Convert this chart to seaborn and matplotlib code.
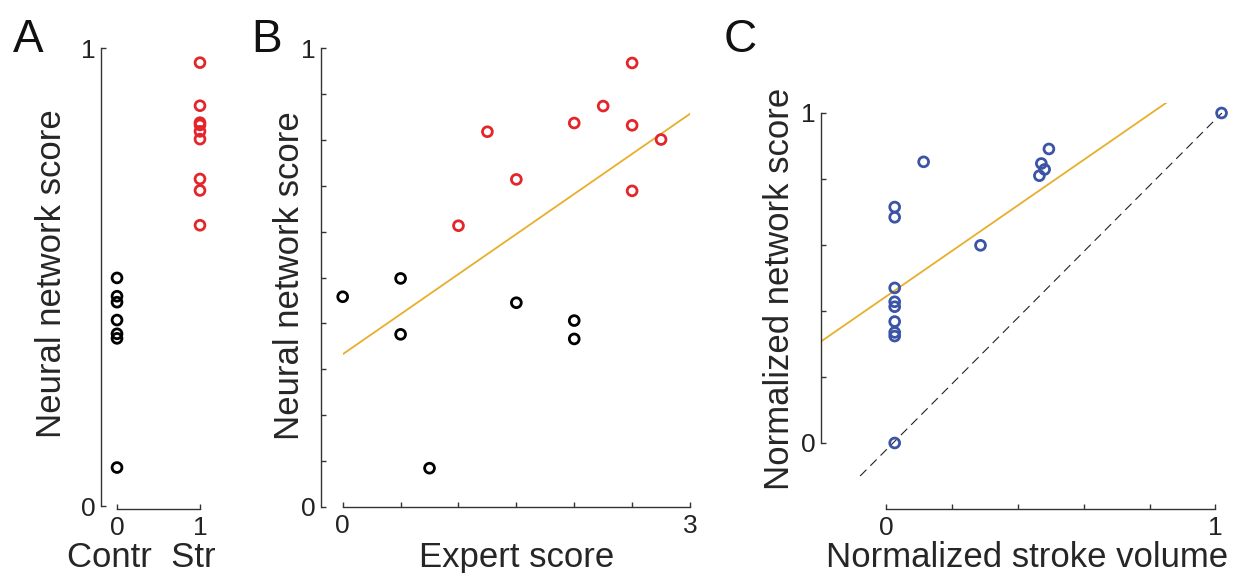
import numpy as np
import matplotlib
matplotlib.use('Agg')
import matplotlib.pyplot as plt
import seaborn as sns

# neural network score per subject (panels A and B)
control_nn = [0.498, 0.458, 0.445, 0.406, 0.376, 0.366, 0.084]
stroke_nn = [0.968, 0.874, 0.837, 0.832, 0.818, 0.801, 0.714, 0.689, 0.613]
# expert score of the same subjects (panel B)
control_expert = [0.5, 0.0, 1.5, 2.0, 0.5, 2.0, 0.75]
stroke_expert = [2.5, 2.25, 2.0, 2.5, 1.25, 2.75, 1.5, 2.5, 1.0]

# panel C: normalized stroke volume vs normalized network score
stroke_volume_norm = [0.113, 0.494, 0.471, 0.481, 0.465, 0.286, 1.019,
                      0.025, 0.025, 0.025, 0.025, 0.025, 0.025, 0.025, 0.025, 0.025]
network_norm = [0.852, 0.891, 0.847, 0.829, 0.810, 0.599, 1.000,
                0.715, 0.684, 0.470, 0.428, 0.413, 0.368, 0.335, 0.324, 0.000]
# identity reference line
diag_x = [-0.08, 1.02]
diag_y = [-0.10, 1.00]

RED = '#e2262b'
BLUE = '#3b54a5'
ORANGE = '#e8ae2c'
AXC = '#333333'

sns.set_theme(style='white')
plt.rcParams['font.family'] = ['Liberation Sans', 'DejaVu Sans']

W, H = 1250, 573
fig = plt.figure(figsize=(W / 100, H / 100), dpi=100)


def rect(left, right, top, bottom):
    return [left / W, 1 - bottom / H, (right - left) / W, (bottom - top) / H]


def style_axes(ax, xticks, xlabels, yticks, ylabels, xbounds, ybounds):
    sns.despine(ax=ax)
    ax.spines['left'].set_bounds(*ybounds)
    ax.spines['bottom'].set_bounds(*xbounds)
    for s in ['left', 'bottom']:
        ax.spines[s].set_color(AXC)
        ax.spines[s].set_linewidth(1.0)
    ax.set_xticks(xticks, xlabels)
    ax.set_yticks(yticks, ylabels)
    ax.tick_params(bottom=True, left=True, direction='in', length=3.5,
                   width=1.0, color=AXC, labelsize=19, labelcolor='#222222')
    ax.tick_params(axis='x', pad=5)
    ax.tick_params(axis='y', pad=4)


def open_circles(ax, x, y, color):
    sns.scatterplot(x=x, y=y, ax=ax, s=50, marker='o', facecolor='none',
                    edgecolor=color, linewidth=2.0, clip_on=False, zorder=3)


# ---- A ----
ax_a = fig.add_axes(rect(101, 217, 48, 506))
open_circles(ax_a, np.zeros(len(control_nn)), control_nn, 'black')
open_circles(ax_a, np.ones(len(stroke_nn)), stroke_nn, RED)
ax_a.set_xlim(-0.193, 1.205)
ax_a.set_ylim(0, 1)
style_axes(ax_a, [0, 1], ['0', '1'], [0, 1], ['0', '1'], (0, 1), (0, 1))
ax_a.spines['bottom'].set_position(('outward', 2.2))
ax_a.set_xlabel('Contr  Str', fontsize=25)
ax_a.xaxis.set_label_coords(0.345, -0.133)
ax_a.xaxis.label.set_va('baseline')
ax_a.set_ylabel('Neural network score', fontsize=25)
ax_a.yaxis.set_label_coords(-0.43, 0.507)
ax_a.yaxis.label.set_va('center')

# ---- B ----
ax_b = fig.add_axes(rect(342.7, 690, 48.3, 506.7))
ax_b.set_xlim(0, 3)
ax_b.set_ylim(0, 1)
sns.regplot(x=np.concatenate([control_expert, stroke_expert]),
            y=np.concatenate([control_nn, stroke_nn]),
            ax=ax_b, scatter=False, ci=None, truncate=False,
            color=ORANGE, line_kws={'lw': 1.3})
open_circles(ax_b, control_expert, control_nn, 'black')
open_circles(ax_b, stroke_expert, stroke_nn, RED)
ax_b.set_xlim(0, 3)
ax_b.set_ylim(0, 1)
style_axes(ax_b, np.arange(0, 3.01, 0.5), ['0', '', '', '', '', '', '3'],
           np.arange(0, 1.01, 0.1), ['0'] + [''] * 9 + ['1'], (0, 3), (0, 1))
ax_b.spines['left'].set_position(('outward', 15.6))
ax_b.set_xlabel('Expert score', fontsize=25)
ax_b.xaxis.set_label_coords(0.5, -0.132)
ax_b.xaxis.label.set_va('baseline')
ax_b.set_ylabel('Neural network score', fontsize=25)
ax_b.yaxis.set_label_coords(-0.153, 0.505)
ax_b.yaxis.label.set_va('center')

# ---- C ----
ax_c = fig.add_axes(rect(820.7, 1241.6, 103.1, 509))
ax_c.set_xlim(-0.2, 1.08)
ax_c.set_ylim(-0.2, 1.03)
sns.regplot(x=stroke_volume_norm, y=network_norm, ax=ax_c, scatter=False,
            ci=None, truncate=False, color=ORANGE, line_kws={'lw': 1.3})
sns.lineplot(x=diag_x, y=diag_y, ax=ax_c, color='#222222', lw=0.8,
             linestyle=(0, (8, 5)))
open_circles(ax_c, stroke_volume_norm, network_norm, BLUE)
ax_c.set_xlim(-0.2, 1.08)
ax_c.set_ylim(-0.2, 1.03)
style_axes(ax_c, np.arange(0, 1.01, 0.2), ['0', '', '', '', '', '1'],
           np.arange(0, 1.01, 0.2), ['0', '', '', '', '', '1'], (0, 1), (0, 1))
ax_c.set_xlabel('Normalized stroke volume', fontsize=25)
ax_c.xaxis.set_label_coords(0.49, -0.143)
ax_c.xaxis.label.set_va('baseline')
ax_c.set_ylabel('Normalized network score', fontsize=25)
ax_c.yaxis.set_label_coords(-0.097, 0.542)
ax_c.yaxis.label.set_va('center')

# panel letters
for letter, xpx in [('A', 13), ('B', 251), ('C', 724)]:
    fig.text(xpx / W, 1 - 52 / H, letter, fontsize=33, ha='left',
             va='baseline', color='#111111')

fig.savefig('out.png', dpi=100)
